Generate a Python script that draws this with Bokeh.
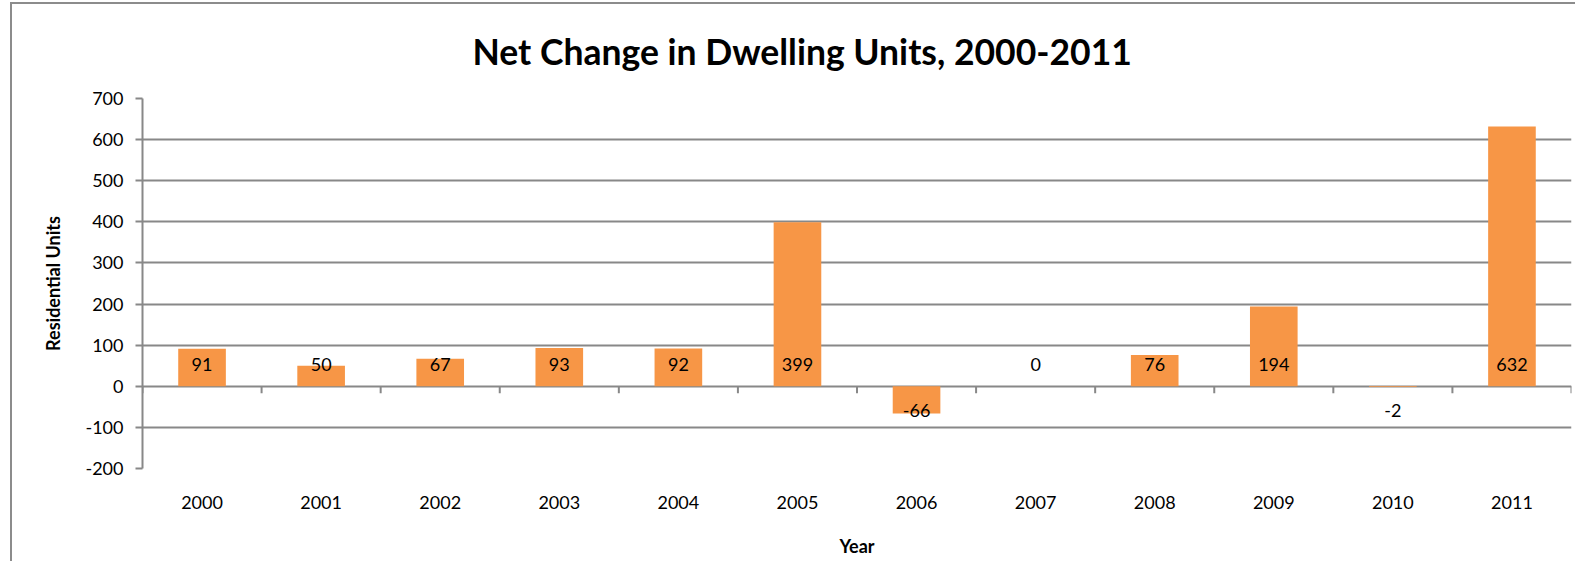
import math
from bokeh.plotting import figure
from bokeh.models import ColumnDataSource, Range1d, LinearAxis, FixedTicker, Title
from bokeh.core.properties import value
from bokeh.embed import file_html
from bokeh.resources import INLINE

years = ["2000", "2001", "2002", "2003", "2004", "2005",
         "2006", "2007", "2008", "2009", "2010", "2011"]
net_change = [91, 50, 67, 93, 92, 399, -66, 0, 76, 194, -2, 632]
y_ticks = [-200, -100, 0, 100, 200, 300, 400, 500, 600, 700]

title_text = "Net Change in Dwelling Units, 2000-2011"
x_title = "Year"
y_title = "Residential Units"

FONT = "Lato"
GRID = "#888888"
BAR = "#F79646"

centers = [i + 0.5 for i in range(len(years))]
bounds = list(range(len(years) + 1))
labels = [str(v) for v in net_change]
label_offsets = [-22 if v >= 0 else 24 for v in net_change]

src = ColumnDataSource(dict(x=centers, y=net_change, label=labels, yoff=label_offsets))

p = figure(width=1565, height=559, output_backend="svg", toolbar_location=None,
           x_range=Range1d(0, len(years)), y_range=Range1d(y_ticks[0], y_ticks[-1]),
           x_axis_type=None, min_border_left=130, min_border_right=6,
           min_border_top=94, min_border_bottom=95)
p.styles = {"border-left": "2px solid #8c8c8c", "border-top": "2px solid #8c8c8c",
            "margin-left": "10px", "margin-top": "2px"}
p.outline_line_color = None
p.background_fill_color = "white"
p.border_fill_color = "white"

p.title = Title(text=title_text, align="left", vertical_align="top", text_font=FONT,
                text_font_size="35.5px", text_font_style="bold", text_color="black",
                standoff=48, offset=330)

# y axis
yax = p.yaxis[0]
yax.ticker = FixedTicker(ticks=y_ticks)
yax.major_label_overrides = {t: str(t) for t in y_ticks}
yax.axis_line_color = GRID
yax.axis_line_width = 2
yax.major_tick_line_color = GRID
yax.major_tick_line_width = 2
yax.major_tick_out = 7
yax.major_tick_in = 0
yax.minor_tick_line_color = None
yax.major_label_text_font = FONT
yax.major_label_text_font_size = "18px"
yax.major_label_text_color = "black"
yax.major_label_standoff = 12
yax.axis_label = y_title
yax.axis_label_text_font = FONT
yax.axis_label_text_font_size = "18px"
yax.axis_label_text_font_style = "bold"
yax.axis_label_text_color = "black"
yax.axis_label_standoff = 18

p.ygrid.ticker = FixedTicker(ticks=y_ticks)
p.ygrid.grid_line_color = GRID
p.ygrid.grid_line_width = 2
p.xgrid.visible = False

# category label axis
lax = LinearAxis(ticker=FixedTicker(ticks=centers),
                 major_label_overrides={c: y for c, y in zip(centers, years)})
lax.axis_line_color = None
lax.major_tick_line_color = None
lax.minor_tick_line_color = None
lax.major_label_text_font = FONT
lax.major_label_text_font_size = "18px"
lax.major_label_text_color = "black"
lax.major_label_standoff = 21
lax.axis_label = x_title
lax.axis_label_text_font = FONT
lax.axis_label_text_font_size = "18px"
lax.axis_label_text_font_style = "bold"
lax.axis_label_text_color = "black"
lax.axis_label_standoff = 23
p.add_layout(lax, "below")

# category boundary ticks on the zero line
p.ray(x=bounds, y=0, length=7, length_units="screen", angle=-math.pi / 2,
      line_color=GRID, line_width=2)

p.vbar(x="x", top="y", bottom=0, width=0.4, source=src, fill_color=BAR, line_color=None)

p.text(x="x", y=0, text="label", y_offset="yoff", source=src, text_align="center",
       text_baseline="middle", text_font=value(FONT), text_font_size="18px", text_color="black")

open("out.html", "w").write(file_html(p, INLINE))
